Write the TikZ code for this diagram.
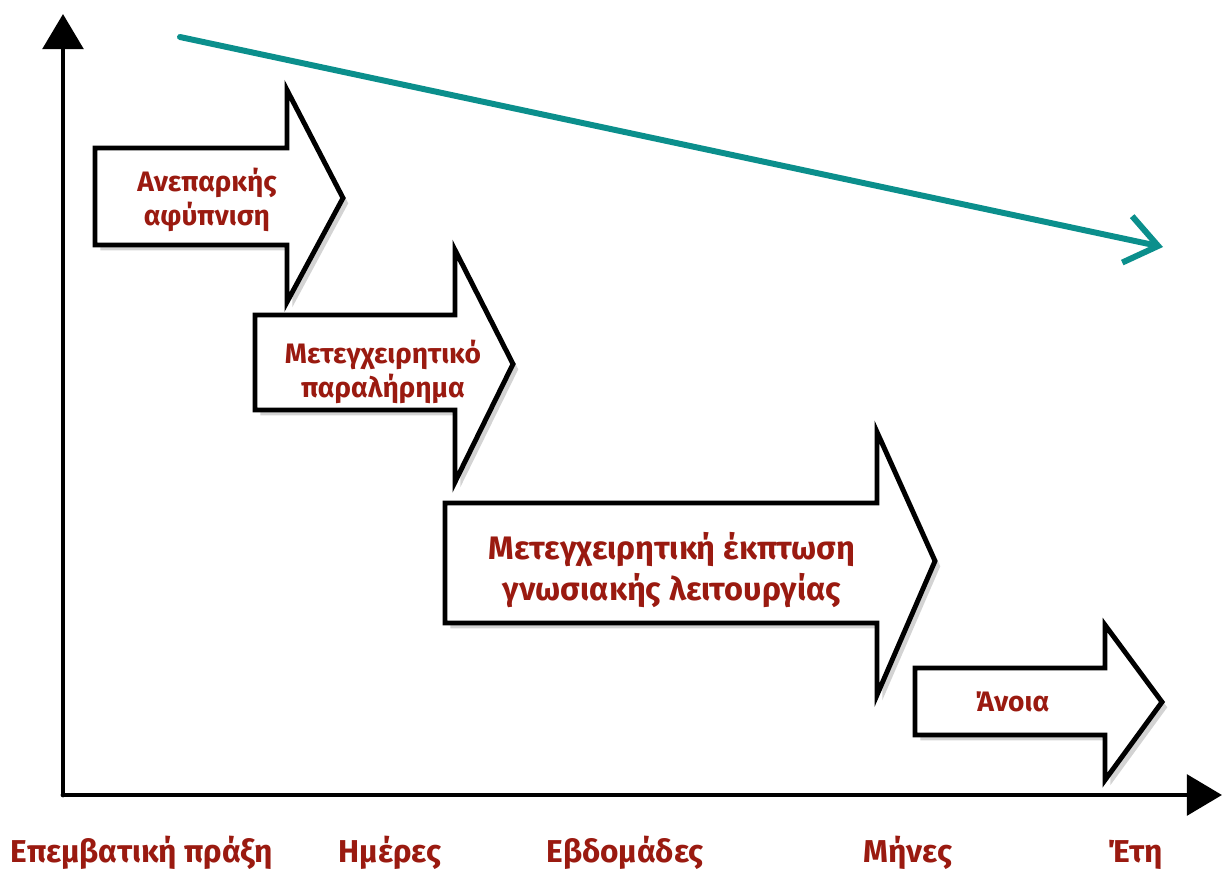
\documentclass[tikz,border=0pt]{standalone}
\usepackage{fontspec}
\setmainfont{Fira Sans}
\usetikzlibrary{arrows.meta,shadows}
\definecolor{labelred}{HTML}{9A1A10}
\definecolor{trendteal}{HTML}{0B8F8C}

\begin{document}
\begin{tikzpicture}[x=0.02cm,y=-0.02cm,
    axis/.style={line width=2.8pt,line cap=round,-{Triangle[length=20pt,width=23pt]}},
    trend/.style={trendteal,line width=3.4pt,line cap=round,-{Straight Barb[length=18pt,width=27pt,line width=3.4pt]}},
    blockarrow/.style={draw=black,line width=2.8pt,line join=miter,fill=white,
      drop shadow={opacity=0.35,shadow xshift=3pt,shadow yshift=-3pt}},
    boxtext/.style={text=labelred,font=\bfseries\fontsize{16}{19.5}\selectfont,align=center},
    bigtext/.style={text=labelred,font=\bfseries\fontsize{18.5}{23}\selectfont,align=center},
    ticktext/.style={text=labelred,font=\bfseries\fontsize{18}{20}\selectfont,anchor=base}]
  \useasboundingbox (0,0) rectangle (1227,873);

  % axes
  \coordinate (o) at (63,795);
  \coordinate (ytop) at (63,14);
  \coordinate (xend) at (1222,795);
  \draw[axis] (o) -- (ytop);
  \draw[axis] (o) -- (xend);

  % trend line
  \coordinate (ts) at (180,37);
  \coordinate (te) at (1163,247);
  \draw[trend] (ts) -- (te);

  % block arrows
  \draw[blockarrow] (95,148) -- (287,148) -- (287,90) -- (343,198) -- (287,302) -- (287,245) -- (95,245) -- cycle;
  \node[boxtext] (afypn) at (207,200) {Ανεπαρκής\\αφύπνιση};

  \draw[blockarrow] (255,315) -- (455,315) -- (455,250) -- (513,364) -- (455,482) -- (455,410) -- (255,410) -- cycle;
  \node[boxtext] (paral) at (383,372) {Μετεγχειρητικό\\παραλήρημα};

  \draw[blockarrow] (445,503) -- (877,503) -- (877,432) -- (935,561) -- (877,695) -- (877,623) -- (445,623) -- cycle;
  \node[bigtext] (ekpt) at (672,570) {Μετεγχειρητική έκπτωση\\γνωσιακής λειτουργίας};

  \draw[blockarrow] (915,668) -- (1105,668) -- (1105,625) -- (1162,702) -- (1105,780) -- (1105,735) -- (915,735) -- cycle;
  \node[boxtext] (anoia) at (1012,702) {Άνοια};

  % time labels
  \node[ticktext] (praxi) at (142,862) {Επεμβατική πράξη};
  \node[ticktext] (meres) at (390,862) {Ημέρες};
  \node[ticktext] (evdom) at (625,862) {Εβδομάδες};
  \node[ticktext] (mines) at (908,862) {Μήνες};
  \node[ticktext] (eti) at (1135,862) {Έτη};
\end{tikzpicture}
\end{document}
